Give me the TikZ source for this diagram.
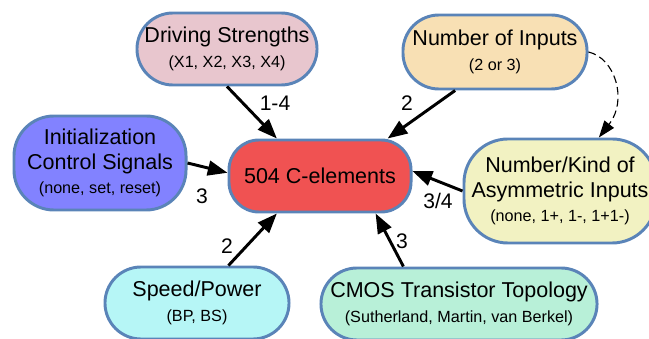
\documentclass[tikz,border=0pt]{standalone}
\usepackage{fontspec}
\setmainfont{Liberation Sans}
\usetikzlibrary{arrows.meta}
\usetikzlibrary{positioning}
\definecolor{frame}{HTML}{5A84B8}
\definecolor{drvfill}{HTML}{E8C6CE}
\definecolor{inpfill}{HTML}{F8E0B4}
\definecolor{initfill}{HTML}{8282FF}
\definecolor{celfill}{HTML}{F05252}
\definecolor{asymfill}{HTML}{F2F2C2}
\definecolor{spdfill}{HTML}{B6F6F6}
\definecolor{cmosfill}{HTML}{B8F0D8}
\newcommand*{\subsize}{\fontsize{11.5}{17.5}\selectfont}
\tikzstyle{param}=[draw=frame, line width=2.1pt, rounded corners=0.9cm, align=center, inner sep=0pt, minimum height=1.8cm, font=\fontsize{15.3}{17.5}\selectfont]
\tikzstyle{link}=[line width=2.1pt, -{Triangle[length=14pt,width=10.5pt]}]
\tikzstyle{hint}=[line width=0.8pt, dash pattern=on 5.5pt off 3pt, -{Triangle[length=12pt,width=8.5pt]}]
\tikzstyle{edgelab}=[inner sep=0pt, font=\fontsize{15}{17}\selectfont]

\begin{document}
\begin{tikzpicture}[x=0.025cm, y=-0.025cm]
    \useasboundingbox (0,0) rectangle (649,339);
    \node [param, fill=drvfill, minimum width=4.5cm] (drv) at (227,49) {Driving Strengths\\{\subsize (X1, X2, X3, X4)}};
    \node [param, fill=inpfill, minimum width=4.6cm, minimum height=1.85cm] (inp) at (495,52) {Number of Inputs\\{\subsize (2 or 3)}};
    \node [param, fill=initfill, minimum width=4.3cm, minimum height=2.35cm, rounded corners=1cm] (init) at (100,163) {Initialization\\Control Signals\\{\subsize (none, set, reset)}};
    \node [param, fill=celfill, minimum width=4.55cm, rounded corners=0.75cm] (cel) at (320,176) {504 C-elements};
    \node [param, fill=asymfill, minimum width=4.8cm, minimum height=2.6cm, rounded corners=1.1cm] (asym) at (560,191) {Number/Kind of\\Asymmetric Inputs\\{\subsize (none, 1+, 1-, 1+1-)}};
    \node [param, fill=spdfill, minimum width=4.6cm] (spd) at (197,303) {Speed/Power\\{\subsize (BP, BS)}};
    \node [param, fill=cmosfill, minimum width=6.9cm] (cmos) at (459,304) {CMOS Transistor Topology\\{\subsize (Sutherland, Martin, van Berkel)}};

    \draw [link] (drv.south) -- (cel.139);
    \draw [link] (inp.-136) -- (cel.29);
    \draw [link] (init.east) -- (cel.178);
    \draw [link] (asym.west) -- (cel.3);
    \draw [link] (spd.50) -- (cel.-139);
    \draw [link] (cmos.146) -- (cel.-34);
    \draw [hint] (inp.east) .. controls (615,58) and (628,100) .. (asym.54);

    \node [edgelab] (l14) at (275,103) {1-4};
    \node [edgelab] (linp) at (407,103) {2};
    \node [edgelab] (linit) at (202,196) {3};
    \node [edgelab] (lasym) at (438,201) {3/4};
    \node [edgelab] (lspd) at (227,246) {2};
    \node [edgelab] (lcmos) at (402,241) {3};
\end{tikzpicture}
\end{document}
